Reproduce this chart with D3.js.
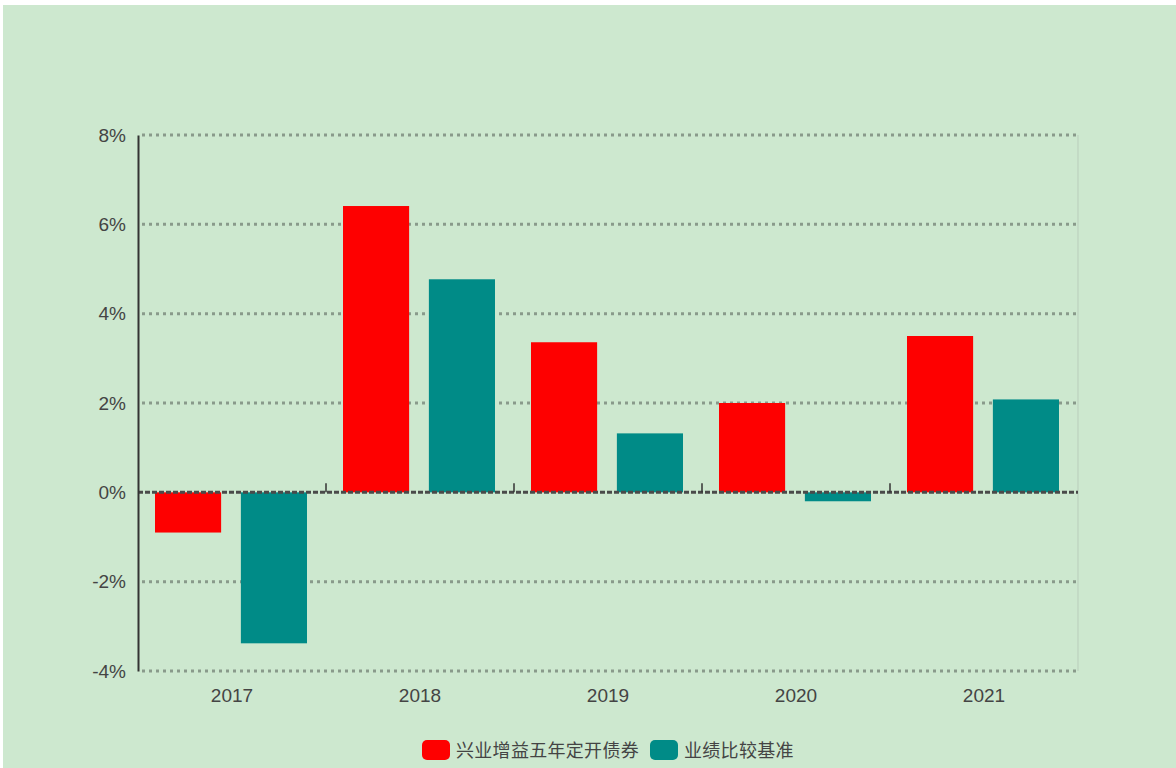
<!DOCTYPE html>
<html>
<head>
<meta charset="utf-8">
<script src="https://cdn.jsdelivr.net/npm/d3@7"></script>
<style>
  body { margin: 0; background: #fff; }
  svg { display: block; }
</style>
</head>
<body>
<div id="chart"></div>
<script>
// data
var years = ["2017", "2018", "2019", "2020", "2021"];
var seriesNames = ["兴业增益五年定开债券", "业绩比较基准"];
var fundValues = [-0.90, 6.41, 3.36, 2.00, 3.50];
var benchValues = [-3.38, 4.77, 1.32, -0.20, 2.08];
var yTicks = [-4, -2, 0, 2, 4, 6, 8];
var colors = ["#fe0000", "#008b87"];

var W = 1176, H = 768;
var margin = {top: 135, right: 98, bottom: 97, left: 138},
    width = W - margin.left - margin.right,
    height = H - margin.top - margin.bottom;

var svg = d3.select("#chart")
  .append("svg")
    .attr("width", W)
    .attr("height", H);

// background panel (thin white frame at top/left)
svg.append("rect")
  .attr("x", 3).attr("y", 5)
  .attr("width", W - 3).attr("height", H - 5)
  .attr("fill", "#cde8cf");

var g = svg.append("g")
  .attr("transform", "translate(" + margin.left + "," + margin.top + ")");

var x = d3.scaleBand()
  .domain(years)
  .range([0, width]);

var x1 = d3.scaleBand()
  .domain([0, 1])
  .range([17, x.bandwidth() - 19])
  .paddingInner(0.23);

var y = d3.scaleLinear()
  .domain([-4, 8])
  .range([height, 0]);

// dotted grid lines
g.append("g")
  .selectAll("line")
  .data(yTicks.filter(function(d) { return d !== 0; }))
  .enter().append("line")
    .attr("x1", 4).attr("x2", width)
    .attr("y1", function(d) { return y(d); })
    .attr("y2", function(d) { return y(d); })
    .attr("stroke", "#899a8b")
    .attr("stroke-width", 3)
    .attr("stroke-dasharray", "3,4");

// right border
g.append("line")
  .attr("x1", width).attr("x2", width)
  .attr("y1", 0).attr("y2", height)
  .attr("stroke", "#b9cdbb")
  .attr("stroke-width", 1);

// bars
var table = years.map(function(yr, i) {
  return {year: yr, vals: [fundValues[i], benchValues[i]]};
});

g.append("g")
  .selectAll("g")
  .data(table)
  .enter().append("g")
    .attr("transform", function(d) { return "translate(" + x(d.year) + ",0)"; })
  .selectAll("rect")
  .data(function(d) { return d.vals; })
  .enter().append("rect")
    .attr("x", function(d, i) { return x1(i); })
    .attr("width", x1.bandwidth())
    .attr("y", function(d) { return y(Math.max(0, d)); })
    .attr("height", function(d) { return Math.abs(y(d) - y(0)); })
    .attr("fill", function(d, i) { return colors[i]; });

// zero line
g.append("line")
  .attr("x1", 0).attr("x2", width)
  .attr("y1", y(0)).attr("y2", y(0))
  .attr("stroke", "#4a4a4a")
  .attr("stroke-width", 3)
  .attr("stroke-dasharray", "5,2");

// category separator ticks
g.append("g")
  .selectAll("line")
  .data(years.slice(1))
  .enter().append("line")
    .attr("x1", function(d) { return x(d); })
    .attr("x2", function(d) { return x(d); })
    .attr("y1", y(0) - 9).attr("y2", y(0))
    .attr("stroke", "#333")
    .attr("stroke-width", 1.5);

// y axis
var yAxis = g.append("g")
  .call(d3.axisLeft(y).tickValues(yTicks).tickSize(0).tickPadding(12)
    .tickFormat(function(d) { return d + "%"; }));
yAxis.select(".domain").attr("stroke", "#333").attr("stroke-width", 2);
yAxis.selectAll("text")
  .attr("fill", "#444")
  .style("font-family", "'Liberation Sans Narrow', 'Liberation Sans', Arial, sans-serif")
  .style("font-size", "19px");

// x labels
var xAxis = g.append("g")
  .attr("transform", "translate(0," + height + ")")
  .call(d3.axisBottom(x).tickSize(0).tickPadding(18));
xAxis.select(".domain").remove();
xAxis.selectAll("text")
  .attr("fill", "#444")
  .style("font-family", "'Liberation Sans Narrow', 'Liberation Sans', Arial, sans-serif")
  .style("font-size", "19px");

// legend
var legend = svg.append("g")
  .attr("transform", "translate(422,740)");
var legX = [0, 228];
seriesNames.forEach(function(name, i) {
  var item = legend.append("g").attr("transform", "translate(" + legX[i] + ",0)");
  item.append("rect")
    .attr("width", 28).attr("height", 20)
    .attr("rx", 5)
    .attr("fill", colors[i]);
  item.append("text")
    .attr("x", 34).attr("y", 17)
    .attr("fill", "#444")
    .style("font-family", "'Noto Sans CJK SC', sans-serif")
    .style("font-size", "18px")
    .style("letter-spacing", "0.3px")
    .text(name);
});
</script>
</body>
</html>
